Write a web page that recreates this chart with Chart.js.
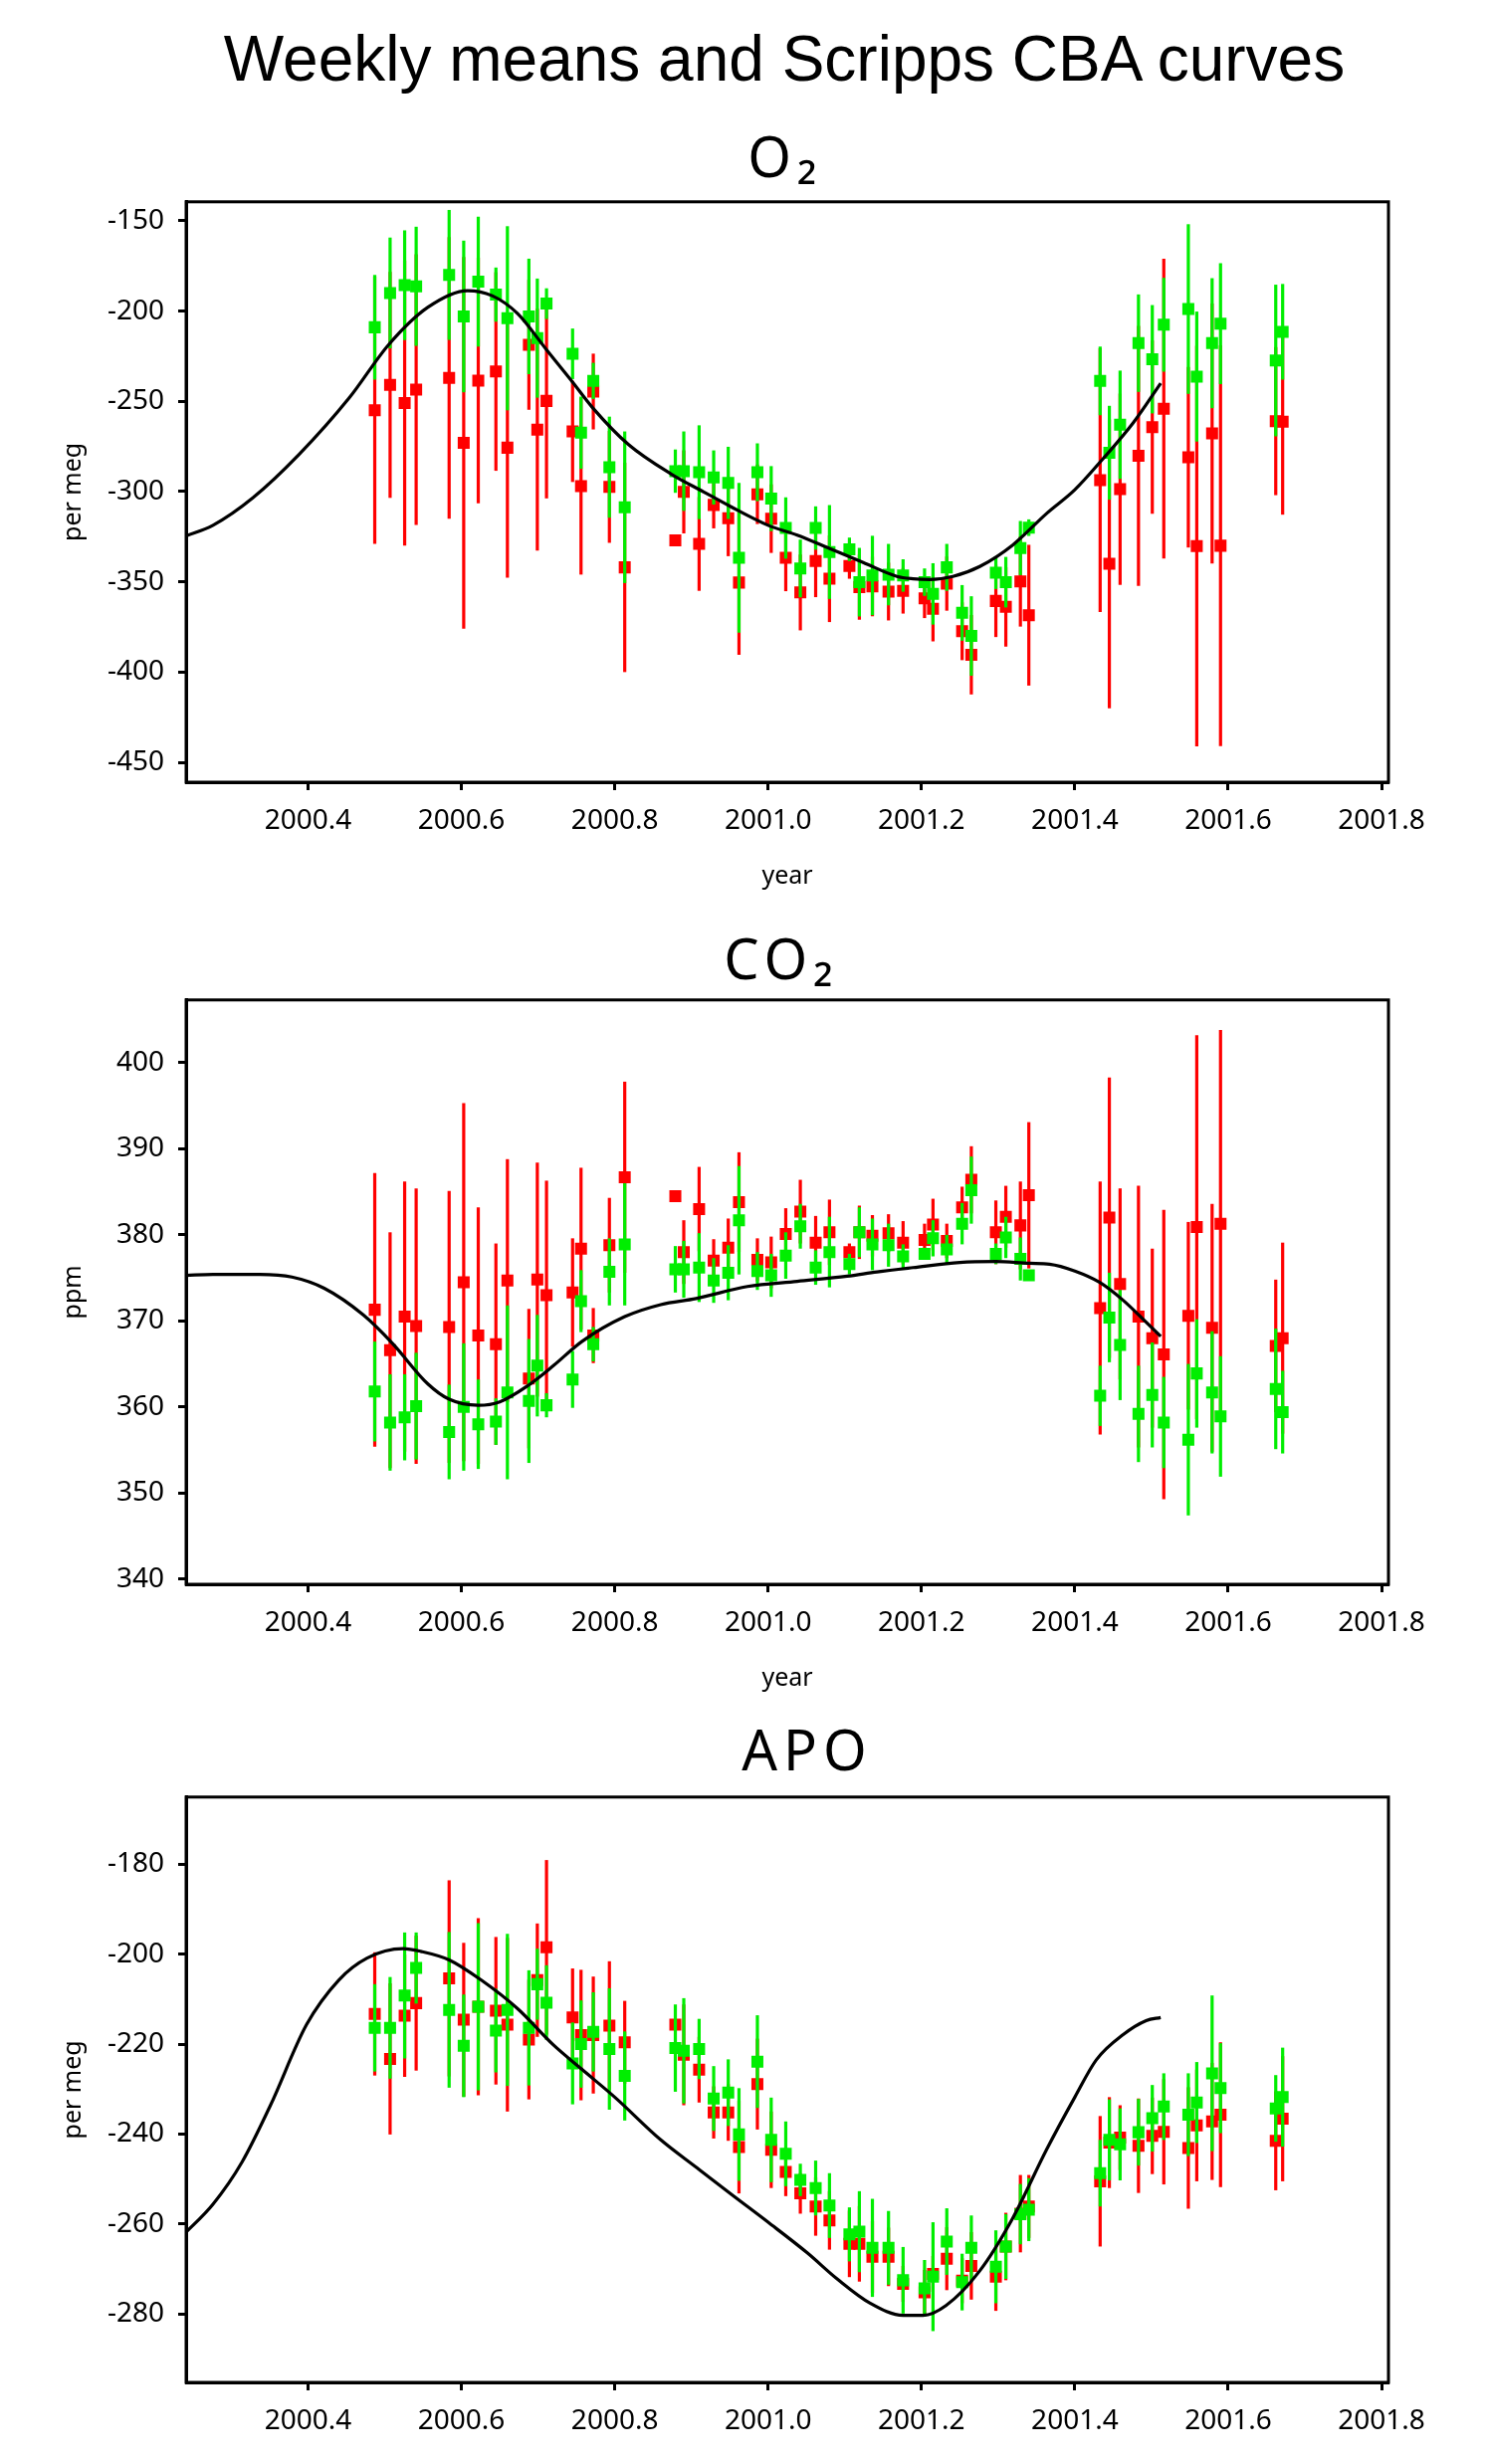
<!DOCTYPE html>
<html lang="en">
<head>
<meta charset="UTF-8">
<title>Weekly means and Scripps CBA curves</title>
<script src="https://cdn.jsdelivr.net/npm/chart.js"></script>
<style>
  html, body { margin: 0; padding: 0; background: #fff; overflow: hidden; }
  body { width: 1494px; height: 2476px; position: relative; }
  .titulo {
    position: absolute; text-align: center; width: 900px;
    color: #000; white-space: nowrap;
  }
  #tituloPrincipal { top: 23px; left: 88px; width: 1400px; font: 64px/72px "Liberation Sans", Arial, sans-serif; }
  .panel { font: 56px/64px "Noto Sans", sans-serif; letter-spacing: 6px; }
  canvas { position: absolute; left: 0; }
</style>
</head>
<body>

<div id="tituloPrincipal" class="titulo">Weekly means and Scripps CBA curves</div>
<div class="titulo panel" style="top:124px; left:339px">O₂</div>
<div class="titulo panel" style="top:930px; left:335px">CO₂</div>
<div class="titulo panel" style="top:1725px; left:361px">APO</div>

<canvas id="chartO2" width="1494" height="734" style="top:172px"></canvas>
<canvas id="chartCO2" width="1494" height="738" style="top:974px"></canvas>
<canvas id="chartAPO" width="1494" height="689" style="top:1775px"></canvas>

<script>
// fechas de las medias semanales (año decimal)
const tiempos = [2000.487, 2000.507, 2000.526, 2000.541, 2000.584, 2000.603, 2000.622, 2000.645, 2000.660, 2000.688,
  2000.699, 2000.711, 2000.745, 2000.756, 2000.772, 2000.793, 2000.813, 2000.879, 2000.890, 2000.910,
  2000.929, 2000.948, 2000.962, 2000.986, 2001.004, 2001.023, 2001.042, 2001.062, 2001.080, 2001.106,
  2001.119, 2001.136, 2001.157, 2001.176, 2001.204, 2001.215, 2001.233, 2001.253, 2001.265, 2001.297,
  2001.310, 2001.329, 2001.340, 2001.433, 2001.445, 2001.459, 2001.483, 2001.501, 2001.516, 2001.548,
  2001.559, 2001.579, 2001.590, 2001.662, 2001.671];

// O2 (per meg)
const o2Rojo = [-255, -240.9, -251, -243.5, -237, -273, -238.5, -233.5, -275.7, -218.7,
  -265.7, -249.8, -266.7, -297, -244.6, -297.4, -342, -327, -300.2, -329,
  -307.4, -314.8, -350.4, -301.5, -315, -336.7, -355.9, -338.5, -348.3, -341.3,
  -353, -352.6, -355.4, -355, -359.1, -365, -351, -377.4, -390.4, -360.6,
  -363.9, -349.8, -368.5, -293.7, -340, -298.7, -280.2, -264.3, -254.1, -281,
  -330.2, -267.8, -330, -261, -261.3];
const o2RojoErr = [74, 62.6, 79, 75, 78, 103, 68, 55, 72, 36,
  67, 54, 28, 49, 21, 31, 58, 0, 23, 26,
  13, 21, 40, 16.5, 19, 18.5, 21, 20, 24, 7,
  18, 16.5, 16, 12.6, 11, 18, 15, 16, 22, 20,
  22, 25, 39, 73, 80, 53, 72, 48, 83, 50,
  111, 72, 111, 41, 51.5];
const o2Verde = [-209, -190, -185.7, -186.3, -180, -203, -183.7, -190.9, -204, -203,
  -215, -195.9, -223.7, -267.4, -238.7, -286.5, -308.7, -288.7, -288.7, -289.3,
  -292.2, -295.2, -336.7, -289.3, -303.9, -320.2, -342.6, -320.2, -333.5, -332,
  -350.2, -346.5, -346, -346.5, -350.2, -356.7, -342, -367.2, -380, -345,
  -350.2, -331.3, -320, -238.7, -278.5, -263, -217.8, -226.7, -207.6, -198.9,
  -236.3, -217.8, -207, -227.4, -211.5];
const o2VerdeErr = [29, 30.7, 30.4, 33, 36, 42, 36, 15, 51, 32,
  33, 8.5, 14, 20, 10, 28, 42, 12, 22, 26,
  15, 20, 41.5, 16, 18, 17, 16, 12, 26, 6.5,
  19, 22, 17, 9, 7.6, 17, 13, 15.4, 22, 9,
  14, 15, 4.6, 19, 26, 30, 27, 30, 26, 47,
  36, 36, 33.5, 42, 26.5];
const o2CurvaX = [2000.241, 2000.276, 2000.328, 2000.388, 2000.454, 2000.505, 2000.556, 2000.608, 2000.640, 2000.673,
  2000.710, 2000.743, 2000.771, 2000.818, 2000.874, 2000.916, 2000.951, 2001.000, 2001.038, 2001.081,
  2001.124, 2001.168, 2001.189, 2001.211, 2001.241, 2001.276, 2001.319, 2001.363, 2001.400, 2001.437,
  2001.476, 2001.512];
const o2CurvaY = [-324.6, -318.7, -303.5, -279.6, -248, -218.7, -198, -188.7, -191.5, -201.3,
  -220.9, -238.3, -253.5, -274, -290.4, -300.2, -308.3, -318.7, -324.1, -331.7,
  -339.3, -347, -348.3, -348.7, -347, -341.5, -329.6, -312.2, -299, -281.7,
  -262, -240];

// CO2 (ppm)
const co2Rojo = [371.3, 366.6, 370.5, 369.4, 369.3, 374.5, 368.3, 367.3, 374.7, 363.3,
  374.8, 373, 373.3, 378.4, 368.3, 378.8, 386.7, 384.5, 378, 383,
  377, 378.5, 383.8, 377.1, 376.8, 380.1, 382.7, 379.1, 380.3, 378,
  380.3, 379.9, 380.2, 379.1, 379.4, 381.2, 379.3, 383.2, 386.4, 380.3,
  382.1, 381.1, 384.6, 371.5, 382, 374.3, 370.5, 368, 366.1, 370.6,
  380.9, 369.2, 381.3, 367.1, 368];
const co2RojoErr = [15.9, 13.7, 15.7, 16, 15.8, 20.8, 14.9, 11.7, 14.1, 8.1,
  13.6, 13.3, 6.3, 9.4, 3.2, 5.5, 11.1, 0, 3.7, 4.9,
  2.5, 3.4, 5.8, 2.5, 3, 3, 3.7, 3.1, 3.8, 1,
  3.1, 2.4, 2.2, 2.5, 1.9, 3, 2, 2.4, 3.9, 3.7,
  3.6, 5.1, 8.5, 14.7, 16.3, 11.1, 15.2, 10.4, 16.8, 10.9,
  22.3, 14.4, 22.5, 7.7, 11.1];
const co2Verde = [361.8, 358.2, 358.8, 360.1, 357.1, 360, 358, 358.3, 361.7, 360.7,
  364.8, 360.2, 363.2, 372.3, 367.3, 375.7, 378.9, 376, 376, 376.2,
  374.7, 375.6, 381.7, 375.8, 375.3, 377.6, 381, 376.2, 378, 376.6,
  380.3, 378.9, 378.8, 377.5, 377.8, 379.6, 378.3, 381.3, 385.2, 377.8,
  379.7, 377.2, 375.3, 361.3, 370.4, 367.2, 359.2, 361.4, 358.2, 356.2,
  363.9, 361.7, 358.9, 362.1, 359.4];
const co2VerdeErr = [5.8, 5.6, 5, 6.2, 5.5, 7.4, 5.2, 2.7, 10.1, 7.2,
  5.9, 1.4, 3.3, 3.6, 2, 3.9, 7.1, 2.7, 3.3, 4,
  2.6, 3.2, 6.3, 2.2, 2.5, 2.7, 2.6, 2, 4.1, 1.2,
  2.9, 3, 2.5, 1.4, 0.7, 2.1, 1.7, 2.4, 3.9, 1.2,
  2.4, 2.5, 0.5, 3.5, 5.2, 6.4, 5.6, 6.1, 5.3, 8.8,
  6.3, 7.1, 7, 7, 4.8];
const co2CurvaX = [2000.241, 2000.276, 2000.337, 2000.379, 2000.421, 2000.472, 2000.510, 2000.556, 2000.584, 2000.622,
  2000.650, 2000.687, 2000.720, 2000.757, 2000.813, 2000.860, 2000.906, 2000.973, 2001.038, 2001.103,
  2001.142, 2001.189, 2001.250, 2001.297, 2001.341, 2001.367, 2001.400, 2001.432, 2001.463, 2001.489,
  2001.512];
const co2CurvaY = [375.3, 375.4, 375.4, 375.1, 373.8, 370.7, 367.4, 362.7, 360.9, 360.2,
  360.6, 362.5, 364.8, 367.6, 370.5, 371.9, 372.6, 374, 374.6, 375.2,
  375.7, 376.2, 376.8, 376.9, 376.7, 376.6, 375.8, 374.5, 372.4, 370.2,
  368.2];

// APO (per meg)
const apoRojo = [-213.3, -223.3, -213.7, -210.9, -205.4, -214.6, -211.7, -212.6, -215.7, -219,
  -205.8, -198.5, -214.1, -218, -218, -215.9, -219.6, -215.7, -222.4, -225.7,
  -235.2, -235.2, -242.9, -228.9, -243.5, -248.4, -253.2, -256.1, -259.2, -264.4,
  -264.4, -267.3, -267.3, -273.3, -275.2, -271.1, -267.7, -272.6, -269.3, -271.7,
  -265, -257.7, -256.1, -250.5, -241.9, -240.8, -242.6, -240.4, -239.5, -243.1,
  -238.1, -237.2, -235.7, -241.5, -236.6];
const apoRojoErr = [13.7, 16.8, 13.6, 15, 21.8, 17.1, 19.7, 16.4, 19.3, 13.3,
  12.6, 19.4, 10.9, 14.5, 13, 14.3, 9.2, 0, 11.2, 7.3,
  5.8, 6.3, 10.3, 10.1, 8.5, 5.4, 4.5, 6.5, 6.5, 7.4,
  8.4, 8, 6.5, 4, 5, 4, 7, 5, 7.5, 7.6,
  7.5, 8.6, 7, 14.5, 10.1, 7.2, 10.5, 8.5, 11.7, 13.5,
  12.4, 13, 16.1, 11, 13.9];
const apoVerde = [-216.4, -216.4, -209.2, -203.1, -212.4, -220.4, -211.7, -217, -212.4, -216.4,
  -206.7, -210.8, -224.3, -220, -217.3, -221.1, -227.1, -220.9, -221.5, -221.1,
  -232.1, -230.8, -240.1, -223.9, -241.3, -244.4, -250.2, -252, -255.9, -262.3,
  -261.7, -265.3, -265.3, -272.5, -274.3, -271.7, -263.9, -272.9, -265.3, -269.5,
  -265, -257.8, -256.8, -248.7, -241.3, -242.3, -239.6, -236.5, -233.9, -235.7,
  -233, -226.5, -229.8, -234.3, -231.8];
const apoVerdeErr = [9.7, 11.3, 14, 7.9, 17.3, 11.4, 18.6, 9.3, 16.9, 12.8,
  7.9, 8.3, 9.1, 9.7, 8.8, 13.5, 9.9, 9.7, 11.7, 6.7,
  7.2, 7.4, 10.3, 10.3, 9.4, 7.2, 3.6, 6.1, 7.2, 6,
  9, 10.9, 8.2, 7.4, 6.3, 12.1, 7.4, 6.3, 7.2, 8.1,
  7.2, 6.7, 7, 7.4, 9, 8, 7.4, 7.4, 7.4, 9.2,
  9, 17.3, 10, 7.4, 11];
const apoCurvaX = [2000.238, 2000.276, 2000.314, 2000.351, 2000.398, 2000.440, 2000.477, 2000.524, 2000.547, 2000.584,
  2000.626, 2000.673, 2000.720, 2000.757, 2000.800, 2000.860, 2000.907, 2000.952, 2001.000, 2001.051,
  2001.090, 2001.133, 2001.176, 2001.202, 2001.232, 2001.276, 2001.319, 2001.363, 2001.400, 2001.428,
  2001.463, 2001.493, 2001.512];
const apoCurvaY = [-262.3, -255.6, -246.2, -233.6, -215.7, -205.8, -200.9, -198.8, -199.4, -201.3,
  -205.8, -212.1, -220.2, -225.6, -231.8, -241.3, -247.5, -253.4, -259.6, -266.4,
  -272.2, -277.6, -280.3, -280.3, -278.1, -270.4, -258.7, -243.5, -231.8, -223.5,
  -217.9, -214.8, -214.1];

// marcas de los ejes
const ticksX = [2000.4, 2000.6, 2000.8, 2001.0, 2001.2, 2001.4, 2001.6, 2001.8];
const ticksO2 = [-450, -400, -350, -300, -250, -200, -150];
const ticksCO2 = [340, 350, 360, 370, 380, 390, 400];
const ticksAPO = [-280, -260, -240, -220, -200, -180];

const ROJO = '#ff0000';
const VERDE = '#00ee00';
const FUENTE = '"Noto Sans", "Open Sans", sans-serif';

// dibuja las barras de error antes de los puntos de cada serie
const barrasError = {
  id: 'barrasError',
  beforeDatasetDraw(chart, args) {
    const ds = chart.data.datasets[args.index];
    if (!ds.errores) return;
    const {ctx, scales: {x, y}} = chart;
    ctx.save();
    ctx.strokeStyle = ds.pointBackgroundColor;
    ctx.lineWidth = 3.2;
    ds.data.forEach((p, i) => {
      const e = ds.errores[i];
      if (!e) return;
      const px = x.getPixelForValue(p.x);
      ctx.beginPath();
      ctx.moveTo(px, y.getPixelForValue(p.y - e));
      ctx.lineTo(px, y.getPixelForValue(p.y + e));
      ctx.stroke();
    });
    ctx.restore();
  }
};

// marco completo alrededor del área del gráfico
const marco = {
  id: 'marco',
  afterDraw(chart) {
    const {ctx, chartArea: a} = chart;
    ctx.save();
    ctx.lineWidth = 3;
    ctx.strokeStyle = '#000';
    ctx.strokeRect(a.left, a.top, a.right - a.left, a.bottom - a.top);
    ctx.restore();
  }
};

function puntos(valores) {
  return tiempos.map((t, i) => ({x: t, y: valores[i]}));
}

function serie(valores, errores, color, orden) {
  return {
    data: puntos(valores),
    errores: errores,
    showLine: false,
    pointStyle: 'rect',
    pointRadius: 8.5,
    pointBorderWidth: 0,
    pointBackgroundColor: color,
    borderColor: color,
    order: orden
  };
}

function crearPanel(id, p) {
  const curva = p.curvaX.map((x, i) => ({x: x, y: p.curvaY[i]}));
  new Chart(document.getElementById(id), {
    type: 'scatter',
    data: {
      datasets: [
        serie(p.rojo, p.rojoErr, ROJO, 3),
        serie(p.verde, p.verdeErr, VERDE, 2),
        {
          data: curva,
          showLine: true,
          borderColor: '#000',
          borderWidth: 3.2,
          pointRadius: 0,
          cubicInterpolationMode: 'monotone',
          order: 1
        }
      ]
    },
    options: {
      responsive: false,
      animation: false,
      layout: {padding: {top: 30, left: 57, right: 99, bottom: 0}},
      plugins: {legend: {display: false}, tooltip: {enabled: false}},
      scales: {
        x: {
          type: 'linear',
          min: 2000.241,
          max: 2001.809,
          afterBuildTicks: s => { s.ticks = ticksX.map(v => ({value: v})); },
          afterFit: s => { s.height = p.altoEjeX; },
          ticks: {
            callback: v => v.toFixed(1),
            font: {family: FUENTE, size: 28},
            color: '#000',
            padding: 14,
            maxRotation: 0,
            autoSkip: false
          },
          grid: {drawOnChartArea: false, tickLength: 8, tickWidth: 3, tickColor: '#000'},
          border: {width: 3, color: '#000'},
          title: {
            display: p.conYear,
            text: 'year',
            color: '#000',
            font: {family: FUENTE, size: 25},
            padding: {top: 0, bottom: 10}
          }
        },
        y: {
          min: p.yMin,
          max: p.yMax,
          afterBuildTicks: s => { s.ticks = p.ticksY.map(v => ({value: v})); },
          afterFit: s => { s.width = 130; },
          ticks: {
            font: {family: FUENTE, size: 28},
            color: '#000',
            padding: 14
          },
          grid: {drawOnChartArea: false, tickLength: 8, tickWidth: 3, tickColor: '#000'},
          border: {width: 3, color: '#000'},
          title: {
            display: true,
            text: p.unidad,
            color: '#000',
            font: {family: FUENTE, size: 25},
            padding: {top: 2, bottom: 0}
          }
        }
      }
    },
    plugins: [barrasError, marco]
  });
}

crearPanel('chartO2', {
  rojo: o2Rojo, rojoErr: o2RojoErr, verde: o2Verde, verdeErr: o2VerdeErr,
  curvaX: o2CurvaX, curvaY: o2CurvaY,
  yMin: -461, yMax: -139.5, ticksY: ticksO2, unidad: 'per meg', conYear: true, altoEjeX: 120
});

crearPanel('chartCO2', {
  rojo: co2Rojo, rojoErr: co2RojoErr, verde: co2Verde, verdeErr: co2VerdeErr,
  curvaX: co2CurvaX, curvaY: co2CurvaY,
  yMin: 339.4, yMax: 407.3, ticksY: ticksCO2, unidad: 'ppm', conYear: true, altoEjeX: 120
});

crearPanel('chartAPO', {
  rojo: apoRojo, rojoErr: apoRojoErr, verde: apoVerde, verdeErr: apoVerdeErr,
  curvaX: apoCurvaX, curvaY: apoCurvaY,
  yMin: -295.2, yMax: -165.1, ticksY: ticksAPO, unidad: 'per meg', conYear: false, altoEjeX: 70
});
</script>

</body>
</html>
